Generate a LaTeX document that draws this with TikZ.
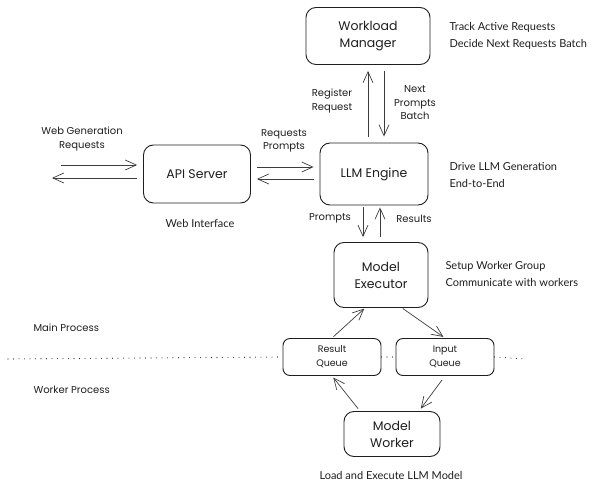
\documentclass[tikz,border=0pt]{standalone}
\usepackage{fontspec}
\setmainfont{Lato}
\newfontfamily\handfont{Poppins}
\usepackage{tikz}
\usetikzlibrary{arrows.meta,
                positioning}
\definecolor{ink}{HTML}{1E1E1E}
\definecolor{wire}{HTML}{3C3C3C}

\begin{document}
\begin{tikzpicture}[x=1pt,y=-1pt,
  box/.style={draw=ink,line width=0.9pt,rounded corners=10pt,align=center,text=ink,
              font=\handfont\fontsize{12.5}{17}\selectfont},
  qbox/.style={box,rounded corners=7pt,font=\handfont\fontsize{9.5}{14}\selectfont},
  lbl/.style={align=center,text=ink,font=\handfont\fontsize{10}{13.5}\selectfont},
  note/.style={anchor=west,align=left,text=ink,font=\fontsize{11}{16.5}\selectfont},
  arr/.style={draw=wire,line width=0.7pt,-{Straight Barb[length=11pt,width=10pt]},
              shorten <=6pt,shorten >=6pt},
  dots/.style={draw=ink,line width=1.1pt,line cap=round,dash pattern=on 0pt off 5.5pt}]
\useasboundingbox (0,0) rectangle (600,489);

\node[box,minimum width=124,minimum height=57] (wm)  at (368,36)  {Workload\\Manager};
\node[box,minimum width=108,minimum height=62] (eng) at (374,174) {LLM Engine};
\node[box,minimum width=107,minimum height=58] (api) at (197,174) {API Server};
\node[box,minimum width=94,minimum height=65]  (exe) at (381,275) {Model\\Executor};
\node[qbox,minimum width=98,minimum height=37] (rq)  at (332,357) {Result\\Queue};
\node[qbox,minimum width=98,minimum height=37] (iq)  at (445,357) {Input\\Queue};
\node[box,minimum width=96,minimum height=45]  (mw)  at (392,434) {Model\\Worker};

\coordinate (webin)  at (55,165);
\coordinate (webout) at (46,178);
\coordinate (dl) at (8,359);
\coordinate (dr) at (525,359);

\draw[arr] (webin) -- (webin -| api.west);
\draw[arr] (api.west |- webout) -- (webout);
\draw[arr] ([yshift=7pt]api.east) -- ([yshift=7pt]api.east -| eng.west);
\draw[arr] ([yshift=-5pt]api.east -| eng.west) -- ([yshift=-5pt]api.east);
\draw[arr] ([xshift=-6pt]eng.north) -- ([xshift=-6pt]eng.north |- wm.south);
\draw[arr] ([xshift=10pt]eng.north |- wm.south) -- ([xshift=10pt]eng.north);
\draw[arr,shorten <=2pt,shorten >=5pt] ([xshift=-11pt]eng.south) -- ([xshift=-11pt]eng.south |- exe.north);
\draw[arr,shorten <=5pt,shorten >=2pt] ([xshift=-1pt]exe.north) -- ([xshift=-1pt]exe.north |- eng.south);
\draw[arr,shorten <=2pt,shorten >=1pt] (rq.north) -- ([xshift=-16pt]exe.south);
\draw[arr,shorten <=1pt,shorten >=2pt] ([xshift=21pt]exe.south) -- (iq.north);
\draw[arr,shorten <=3pt,shorten >=2pt] ([xshift=-32pt]mw.north) -- (rq.south);
\draw[arr,shorten <=5pt,shorten >=3pt] (iq.south) -- ([xshift=27pt]mw.north);

\draw[dots] (dl) -- (rq.west) (rq.east) -- (iq.west) (iq.east) -- (dr);

\node[lbl] (weblbl)  at (82,139)  {Web Generation\\Requests};
\node[lbl] (reqlbl)  at (284,141) {Requests\\Prompts};
\node[lbl] (reglbl)  at (332,101) {Register\\Request};
\node[lbl] (nextlbl) at (415,103) {Next\\Prompts\\Batch};
\node[lbl] (prlbl)   at (330,218) {Prompts};
\node[lbl] (reslbl)  at (414,219) {Results};
\node[lbl,anchor=west] (mainlbl) at (30,328) {Main Process};
\node[lbl,anchor=west] (wrklbl)  at (30,390) {Worker Process};

\foreach \x/\y/\t [count=\i] in {446/36/{Track Active Requests\\Decide Next Requests Batch},
                                 446/175/{Drive LLM Generation\\End-to-End},
                                 442/274/{Setup Worker Group\\Communicate with workers}}
  \node[note] (note\i) at (\x,\y) {\t};
\node[note,anchor=center] (webif) at (200,223) {Web Interface};
\node[note,anchor=center] (load)  at (391,475) {Load and Execute LLM Model};
\end{tikzpicture}
\end{document}
